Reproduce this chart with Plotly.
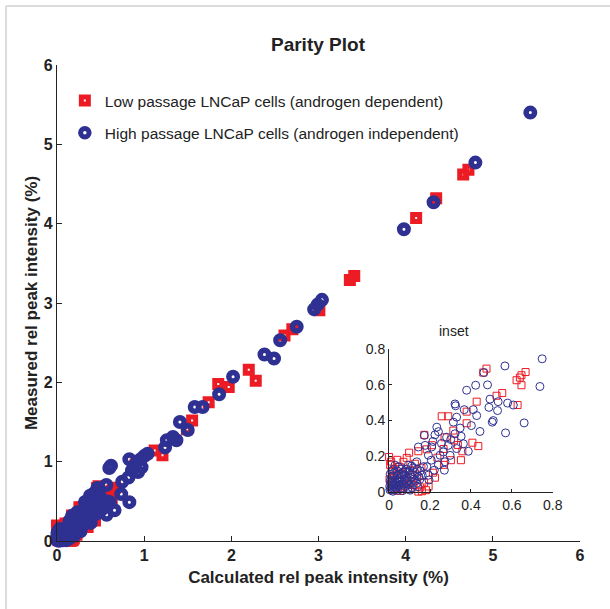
import plotly.graph_objects as go

# ---------------- data ----------------
# Low passage LNCaP cells (androgen dependent): calculated vs measured rel peak intensity (%)
lp_calc = [4.72, 4.66, 4.35, 4.12, 3.41, 3.36, 3.01, 2.70, 2.61, 2.28, 2.20, 1.97, 1.85, 1.74,
           1.55, 1.49, 1.21, 1.12, 0.90,
           0.476, 0.460, 0.667, 0.647, 0.639, 0.623, 0.647, 0.553, 0.525, 0.628, 0.428, 0.379,
           0.379, 0.257, 0.289, 0.436, 0.407, 0.358, 0.314, 0.172, 0.351, 0.302, 0.224, 0.184,
           0.143, 0.098, 0.086, 0.000, 0.070, 0.143, 0.119,
           0.005, 0.012, 0.031, 0.052, 0.024, 0.041, 0.063, 0.081, 0.102, 0.126, 0.158, 0.171,
           0.193, 0.214, 0.236, 0.266, 0.209, 0.007, 0.016, 0.038, 0.055, 0.072, 0.094, 0.108,
           0.137, 0.152, 0.002, 0.029, 0.046, 0.268, 0.318, 0.336, 0.271,
           0.010, 0.020, 0.060, 0.090, 0.115, 0.180, 0.160, 0.040]
lp_meas = [4.68, 4.62, 4.32, 4.07, 3.34, 3.29, 2.91, 2.67, 2.59, 2.02, 2.16, 1.94, 1.98, 1.75,
           1.52, 1.41, 1.08, 1.14, 0.96,
           0.691, 0.669, 0.672, 0.654, 0.641, 0.626, 0.598, 0.554, 0.539, 0.487, 0.506, 0.450,
           0.385, 0.424, 0.424, 0.257, 0.276, 0.228, 0.344, 0.320, 0.178, 0.178, 0.080, 0.239,
           0.228, 0.220, 0.191, 0.196, 0.169, 0.002, 0.039,
           0.152, 0.118, 0.128, 0.141, 0.088, 0.065, 0.102, 0.075, 0.121, 0.158, 0.136, 0.052,
           0.031, 0.108, 0.192, 0.241, 0.262, 0.034, 0.009, 0.021, 0.006, 0.032, 0.015, 0.058,
           0.091, 0.026, 0.071, 0.052, 0.099, 0.152, 0.289, 0.263, 0.306,
           0.170, 0.060, 0.020, 0.045, 0.095, 0.010, 0.004, 0.180]

# High passage LNCaP cells (androgen independent)
hp_calc = [5.43, 4.80, 4.32, 3.98, 3.04, 2.99, 2.95, 2.75, 2.56, 2.49, 2.38, 2.02, 1.86, 1.67,
           1.58, 1.50, 1.41, 1.37, 1.33, 1.26, 1.24, 1.04, 1.00, 0.96, 0.83, 0.97, 0.89, 0.93,
           0.86, 0.62, 0.60, 0.83, 0.82,
           0.748, 0.737, 0.566, 0.463, 0.481, 0.423, 0.379, 0.660, 0.569, 0.493, 0.533, 0.579,
           0.607, 0.488, 0.530, 0.509, 0.504, 0.444, 0.322, 0.325, 0.367, 0.411, 0.428, 0.330,
           0.314, 0.233, 0.224, 0.172, 0.322, 0.281, 0.289, 0.363, 0.387, 0.330, 0.265, 0.273,
           0.249, 0.208, 0.192, 0.176, 0.143, 0.270, 0.221, 0.192, 0.195, 0.135, 0.094, 0.078,
           0.046, 0.029,
           0.118, 0.104, 0.152, 0.168, 0.121, 0.088, 0.062, 0.071, 0.053, 0.039, 0.021, 0.012,
           0.008, 0.016, 0.027, 0.034, 0.045, 0.058, 0.066, 0.081, 0.097, 0.112, 0.134, 0.004,
           0.019, 0.003, 0.041, 0.011, 0.025, 0.049, 0.074, 0.096, 0.085, 0.145, 0.162, 0.184,
           0.206, 0.241, 0.214, 0.256, 0.301, 0.347, 0.298, 0.352, 0.402, 0.241,
           0.010, 0.022, 0.033, 0.044, 0.051, 0.063, 0.075, 0.087, 0.099, 0.109, 0.015, 0.028,
           0.036, 0.057, 0.068, 0.079, 0.092, 0.103, 0.006, 0.018, 0.125, 0.138, 0.110, 0.128,
           0.150, 0.060, 0.040, 0.020, 0.005, 0.140]
hp_meas = [5.40, 4.77, 4.27, 3.93, 3.04, 2.98, 2.92, 2.70, 2.53, 2.30, 2.35, 2.07, 1.85, 1.69,
           1.69, 1.40, 1.50, 1.27, 1.31, 1.27, 1.18, 1.10, 1.07, 1.03, 1.03, 0.93, 0.95, 0.87,
           0.89, 0.95, 0.92, 0.49, 0.80,
           0.746, 0.591, 0.706, 0.669, 0.600, 0.598, 0.570, 0.387, 0.331, 0.520, 0.506, 0.498,
           0.487, 0.474, 0.456, 0.400, 0.391, 0.339, 0.493, 0.483, 0.461, 0.461, 0.428, 0.419,
           0.391, 0.363, 0.320, 0.317, 0.326, 0.307, 0.261, 0.270, 0.228, 0.243, 0.224, 0.169,
           0.206, 0.252, 0.206, 0.261, 0.252, 0.122, 0.122, 0.094, 0.067, 0.169, 0.150, 0.113,
           0.141, 0.150,
           0.136, 0.098, 0.118, 0.142, 0.072, 0.061, 0.082, 0.044, 0.057, 0.093, 0.104, 0.081,
           0.047, 0.023, 0.062, 0.018, 0.036, 0.021, 0.008, 0.029, 0.041, 0.025, 0.048, 0.012,
           0.004, 0.031, 0.009, 0.058, 0.041, 0.072, 0.097, 0.118, 0.128, 0.086, 0.093, 0.142,
           0.178, 0.152, 0.283, 0.272, 0.294, 0.358, 0.205, 0.312, 0.372, 0.338,
           0.015, 0.030, 0.048, 0.055, 0.040, 0.060, 0.068, 0.079, 0.064, 0.085, 0.040, 0.012,
           0.070, 0.095, 0.112, 0.051, 0.020, 0.010, 0.065, 0.090, 0.110, 0.128, 0.145, 0.062,
           0.070, 0.130, 0.118, 0.125, 0.100, 0.030]

main_ticks = [0, 1, 2, 3, 4, 5, 6]
inset_ticks = [0, 0.2, 0.4, 0.6, 0.8]
inset_ticktext = ["0", "0.2", "0.4", "0.6", "0.8"]
lp_name = "Low passage LNCaP cells (androgen dependent)"
hp_name = "High passage LNCaP cells (androgen independent)"

RED = "rgb(237,28,36)"
BLUE = "rgb(46,49,146)"
FONT = "Liberation Sans, Arial, Helvetica, sans-serif"
INSET_MAX = 0.8


def inset_subset(xs, ys):
    pts = [(a, b) for a, b in zip(xs, ys) if a <= INSET_MAX and b <= INSET_MAX]
    return [p[0] for p in pts], [p[1] for p in pts]


fig = go.Figure()

# main plot
fig.add_trace(go.Scatter(
    x=lp_calc, y=lp_meas, mode="markers", name=lp_name, legendgroup="lp",
    cliponaxis=False,
    marker=dict(symbol="square-open", size=7, color=RED, line=dict(width=5, color=RED)),
))
fig.add_trace(go.Scatter(
    x=hp_calc, y=hp_meas, mode="markers", name=hp_name, legendgroup="hp",
    cliponaxis=False,
    marker=dict(symbol="circle-open", size=8.5, color=BLUE, line=dict(width=5.5, color=BLUE)),
))

# inset
lx, ly = inset_subset(lp_calc, lp_meas)
hx, hy = inset_subset(hp_calc, hp_meas)
fig.add_trace(go.Scatter(
    x=lx, y=ly, mode="markers", xaxis="x2", yaxis="y2", showlegend=False, cliponaxis=False,
    marker=dict(symbol="square-open", size=7, color=RED, line=dict(width=1, color=RED)),
))
fig.add_trace(go.Scatter(
    x=hx, y=hy, mode="markers", xaxis="x2", yaxis="y2", showlegend=False, cliponaxis=False,
    marker=dict(symbol="circle-open", size=8, color=BLUE, line=dict(width=1, color=BLUE)),
))

main_axis = dict(
    range=[0, 6], tickvals=main_ticks, ticks="inside", ticklen=5, tickwidth=1,
    tickcolor="#222", showline=True, linecolor="#222", linewidth=1.3,
    showgrid=False, zeroline=False,
    tickfont=dict(family=FONT, size=16, color="#222", weight="bold"),
)
inset_axis = dict(
    range=[0, INSET_MAX], tickvals=inset_ticks, ticktext=inset_ticktext, ticks="inside",
    ticklen=3, tickwidth=1, tickcolor="#222", showline=True, linecolor="#222", linewidth=1,
    showgrid=False, zeroline=False,
    tickfont=dict(family=FONT, size=14, color="#222"),
)

fig.update_layout(
    width=610, height=609,
    margin=dict(l=57, r=30, t=65, b=68),
    paper_bgcolor="white", plot_bgcolor="white",
    title=dict(text="Parity Plot", x=0.499, xref="paper", y=1 - 44 / 609, yref="container",
               xanchor="center", yanchor="middle",
               font=dict(family=FONT, size=19, color="#222", weight="bold")),
    xaxis=dict(main_axis, domain=[0, 1], anchor="y",
               title=dict(text="Calculated rel peak intensity (%)", standoff=7,
                          font=dict(family=FONT, size=17, color="#222", weight="bold"))),
    yaxis=dict(main_axis, domain=[0, 1], anchor="x",
               title=dict(text="Measured rel peak intensity (%)", standoff=1,
                          font=dict(family=FONT, size=17, color="#222", weight="bold"))),
    xaxis2=dict(inset_axis, domain=[0.635, 0.948], anchor="y2"),
    yaxis2=dict(inset_axis, domain=[0.103, 0.403], anchor="x2"),
    legend=dict(x=0.015, y=0.960, xanchor="left", yanchor="top", bgcolor="rgba(0,0,0,0)",
                tracegroupgap=9, font=dict(family=FONT, size=15.5, color="#222")),
    annotations=[dict(text="inset", x=(0.635 + 0.948) / 2, y=0.403, xref="paper", yref="paper",
                      yanchor="bottom", yshift=8, showarrow=False,
                      font=dict(family=FONT, size=14, color="#222"))],
    shapes=[
        dict(type="line", xref="paper", yref="paper", x0=-0.0975, x1=1.2, y0=1.124, y1=1.124,
             line=dict(color="#dcdcdc", width=2)),
        dict(type="line", xref="paper", yref="paper", x0=-0.0975, x1=-0.0975, y0=1.124, y1=-0.2,
             line=dict(color="#dcdcdc", width=2)),
    ],
)

fig.write_html("out.html", config={"displayModeBar": False},
               post_script="document.body.style.margin='0';")
